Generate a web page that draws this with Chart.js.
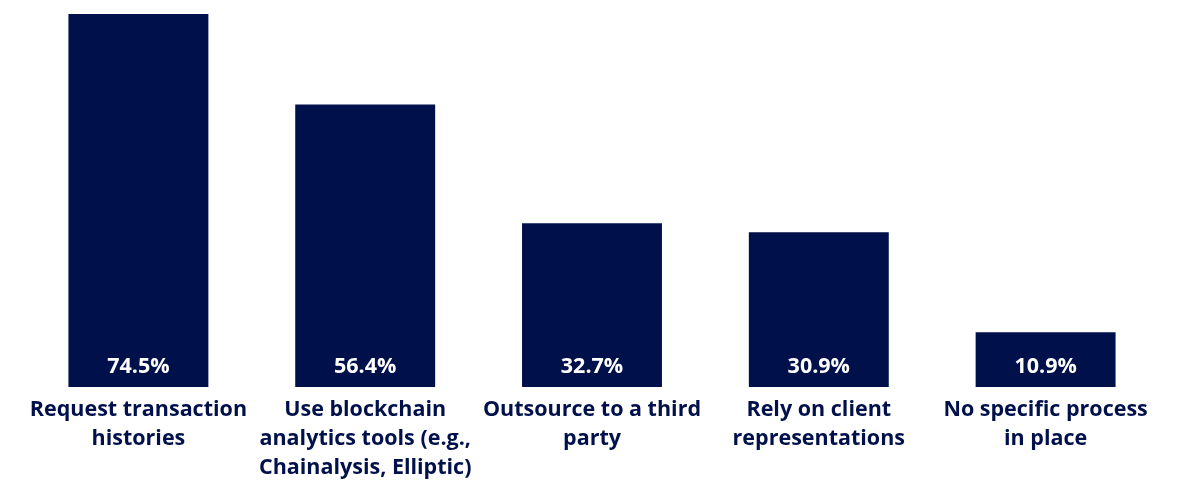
<!DOCTYPE html>
<html>
<head>
<meta charset="utf-8">
<script src="https://cdn.jsdelivr.net/npm/chart.js@4/dist/chart.umd.min.js"></script>
<style>
  html, body { margin: 0; padding: 0; background: #fff; }
  #wrap { width: 1183px; height: 480px; position: relative; }
</style>
</head>
<body>
<div id="wrap"><canvas id="methodsChart"></canvas></div>
<script>
const categories = [
  ['Request transaction', 'histories'],
  ['Use blockchain', 'analytics tools (e.g.,', 'Chainalysis, Elliptic)'],
  ['Outsource to a third', 'party'],
  ['Rely on client', 'representations'],
  ['No specific process', 'in place']
];
const shares = [74.5, 56.4, 32.7, 30.9, 10.9];

const navy = '#00104a';
const fontFamily = "'Open Sans', 'Noto Sans', sans-serif";

// white percentage written just above the bottom of every bar
const valueLabels = {
  id: 'valueLabels',
  afterDatasetsDraw(chart) {
    const ctx = chart.ctx;
    const meta = chart.getDatasetMeta(0);
    const base = chart.scales.y.getPixelForValue(0);
    ctx.save();
    ctx.fillStyle = '#ffffff';
    ctx.font = `bold 21.5px ${fontFamily}`;
    ctx.textAlign = 'center';
    ctx.textBaseline = 'middle';
    meta.data.forEach((bar, i) => {
      ctx.fillText(shares[i].toFixed(1) + '%', bar.x, base - 20);
    });
    ctx.restore();
  }
};

const ctx = document.getElementById('methodsChart').getContext('2d');
new Chart(ctx, {
  type: 'bar',
  data: {
    labels: categories,
    datasets: [{
      data: shares,
      backgroundColor: navy,
      borderWidth: 0,
      categoryPercentage: 1,
      barPercentage: 0.617
    }]
  },
  options: {
    responsive: true,
    maintainAspectRatio: false,
    animation: false,
    layout: { padding: { top: 14, left: 25, right: 24, bottom: -10 } },
    plugins: {
      legend: { display: false },
      title: { display: false },
      tooltip: { enabled: false }
    },
    scales: {
      y: {
        display: false,
        min: 0,
        max: 74.5
      },
      x: {
        grid: { display: false, drawTicks: false },
        border: { display: false },
        ticks: {
          color: navy,
          padding: 8,
          maxRotation: 0,
          autoSkip: false,
          font: { family: fontFamily, size: 21.5, weight: 'bold', lineHeight: 1.35 }
        }
      }
    }
  },
  plugins: [valueLabels]
});
</script>
</body>
</html>
